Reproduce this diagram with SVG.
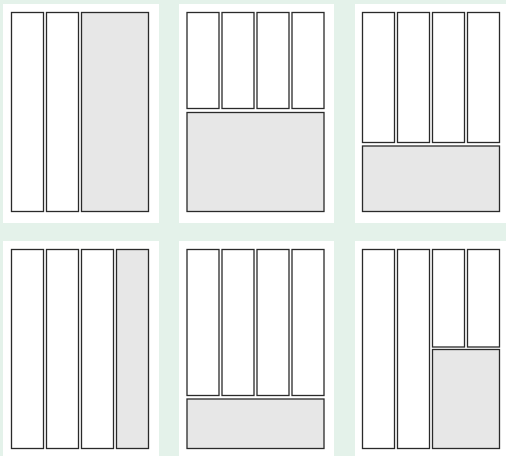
<svg xmlns="http://www.w3.org/2000/svg" width="506" height="456" viewBox="0 0 506 456">
  <style>
    .panel { fill: #ffffff; stroke: none; }
    .col { fill: #ffffff; stroke: #2a2a2a; stroke-width: 1.3; }
    .main { fill: #e7e7e7; stroke: #2a2a2a; stroke-width: 1.3; }
  </style>
  <rect x="0" y="0" width="506" height="456" fill="#e4f2ea"/>

  <g id="layout-1">
    <rect class="panel" x="3" y="4" width="156" height="219"/>
    <rect class="col" x="11.5" y="12.5" width="32" height="199"/>
    <rect class="col" x="46.5" y="12.5" width="32" height="199"/>
    <rect class="main" x="81.5" y="12.5" width="67" height="199"/>
  </g>

  <g id="layout-2">
    <rect class="panel" x="179" y="4" width="155" height="219"/>
    <rect class="col" x="187" y="12.5" width="32" height="96"/>
    <rect class="col" x="222" y="12.5" width="32" height="96"/>
    <rect class="col" x="257" y="12.5" width="32" height="96"/>
    <rect class="col" x="292" y="12.5" width="32" height="96"/>
    <rect class="main" x="187" y="112.5" width="137" height="99"/>
  </g>

  <g id="layout-3">
    <rect class="panel" x="355" y="4" width="151" height="219"/>
    <rect class="col" x="362.5" y="12.5" width="32" height="130"/>
    <rect class="col" x="397.5" y="12.5" width="32" height="130"/>
    <rect class="col" x="432.5" y="12.5" width="32" height="130"/>
    <rect class="col" x="467.5" y="12.5" width="32" height="130"/>
    <rect class="main" x="362.5" y="146" width="137" height="65.5"/>
  </g>

  <g id="layout-4">
    <rect class="panel" x="3" y="241" width="156" height="215"/>
    <rect class="col" x="11.5" y="249.5" width="32" height="199"/>
    <rect class="col" x="46.5" y="249.5" width="32" height="199"/>
    <rect class="col" x="81.5" y="249.5" width="32" height="199"/>
    <rect class="main" x="116.5" y="249.5" width="32" height="199"/>
  </g>

  <g id="layout-5">
    <rect class="panel" x="179" y="241" width="155" height="215"/>
    <rect class="col" x="187" y="249.5" width="32" height="146"/>
    <rect class="col" x="222" y="249.5" width="32" height="146"/>
    <rect class="col" x="257" y="249.5" width="32" height="146"/>
    <rect class="col" x="292" y="249.5" width="32" height="146"/>
    <rect class="main" x="187" y="399" width="137" height="49.5"/>
  </g>

  <g id="layout-6">
    <rect class="panel" x="355" y="241" width="151" height="215"/>
    <rect class="col" x="362.5" y="249.5" width="32" height="199"/>
    <rect class="col" x="397.5" y="249.5" width="32" height="199"/>
    <rect class="col" x="432.5" y="249.5" width="32" height="97.5"/>
    <rect class="col" x="467.5" y="249.5" width="32" height="97.5"/>
    <rect class="main" x="432.5" y="349.5" width="67" height="99"/>
  </g>

  <g id="connectors"/>
</svg>
